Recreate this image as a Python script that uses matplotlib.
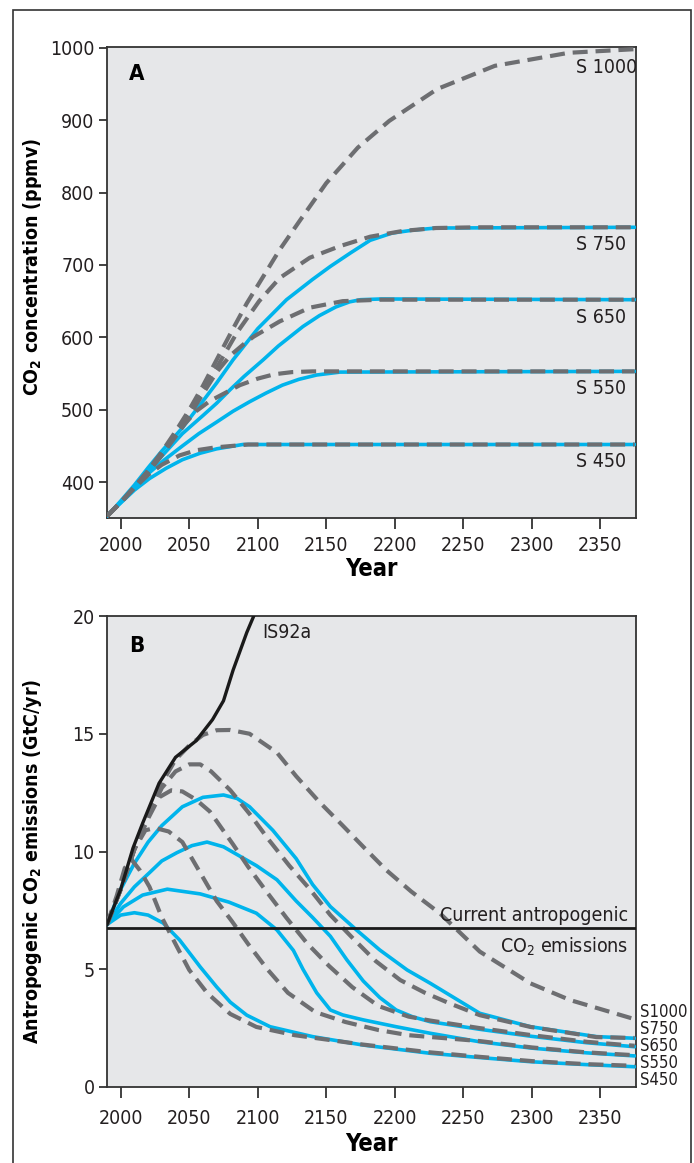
import matplotlib
matplotlib.use("Agg")
import matplotlib.pyplot as plt
from matplotlib.patches import Rectangle

plt.rcParams['font.family'] = ['DejaVu Sans']
plt.rcParams['font.stretch'] = 'condensed'
plt.rcParams['mathtext.default'] = 'regular'

# ---- panel A: CO2 concentration (ppmv) ----
s1000_d_yr = [1990, 2000, 2010, 2020, 2030, 2040, 2050, 2060, 2070, 2082, 2092, 2104, 2116, 2131, 2150, 2173, 2196, 2231, 2273, 2327, 2375]
s1000_d = [353, 372, 393, 416, 442, 470, 500, 533, 569, 612, 647, 684, 721, 762, 813, 862, 899, 943, 975, 993, 998]

s750_d_yr = [1990, 2000, 2010, 2020, 2030, 2040, 2050, 2060, 2070, 2085, 2101, 2116, 2138, 2160, 2182, 2206, 2230, 2260, 2375]
s750_d = [353, 372, 393, 415, 440, 467, 496, 527, 558, 607, 650, 682, 710, 726, 739, 747, 751, 752, 752]
s750_b_yr = [1990, 2000, 2010, 2020, 2030, 2045, 2060, 2070, 2082, 2100, 2121, 2140, 2153, 2168, 2182, 2198, 2213, 2230, 2375]
s750_b = [353, 374, 396, 420, 443, 475, 512, 537, 569, 612, 652, 680, 698, 717, 734, 744, 748, 751, 752]

s650_d_yr = [1990, 2000, 2010, 2020, 2030, 2040, 2050, 2060, 2070, 2080, 2090, 2097, 2116, 2138, 2162, 2190, 2375]
s650_d = [353, 372, 393, 415, 439, 464, 492, 522, 552, 575, 591, 601, 622, 641, 650, 652, 652]
s650_b_yr = [1990, 2000, 2010, 2021, 2030, 2045, 2060, 2070, 2080, 2090, 2104, 2115, 2133, 2145, 2157, 2167, 2175, 2190, 2375]
s650_b = [353, 373, 393, 416, 436, 467, 492, 509, 528, 546, 569, 588, 615, 630, 642, 649, 652, 653, 652]

s550_d_yr = [1990, 2000, 2010, 2020, 2030, 2040, 2047, 2055, 2065, 2075, 2087, 2100, 2112, 2125, 2140, 2375]
s550_d = [353, 372, 393, 414, 437, 463, 481, 498, 512, 522, 534, 543, 549, 552, 553, 553]
s550_b_yr = [1990, 2000, 2010, 2019, 2032, 2045, 2057, 2070, 2082, 2094, 2106, 2118, 2130, 2143, 2160, 2375]
s550_b = [353, 372, 392, 410, 431, 450, 467, 483, 498, 511, 523, 534, 542, 548, 552, 553]

s450_d_yr = [1990, 2000, 2010, 2020, 2030, 2043, 2055, 2069, 2093, 2375]
s450_d = [353, 372, 392, 410, 424, 437, 444, 448, 452, 452]
s450_b_yr = [1990, 1997, 2010, 2021, 2033, 2045, 2058, 2070, 2089, 2375]
s450_b = [353, 366, 389, 405, 419, 431, 440, 446, 452, 452]

conc_labels = ["S 1000", "S 750", "S 650", "S 550", "S 450"]
conc_label_y = [972, 728, 628, 529, 428]

# ---- panel B: emissions (GtC/yr) ----
is92a_yr = [1990, 2000, 2009, 2016, 2028, 2040, 2055, 2067, 2075, 2082, 2092, 2100]
is92a = [6.9, 8.4, 10.15, 11.2, 12.9, 14.0, 14.7, 15.6, 16.4, 17.7, 19.3, 20.4]

e1000_d_yr = [1990, 2000, 2010, 2020, 2030, 2040, 2050, 2060, 2070, 2080, 2094, 2114, 2128, 2145, 2162, 2177, 2194, 2212, 2233, 2262, 2299, 2328, 2375]
e1000_d = [6.9, 8.4, 10.1, 11.6, 12.9, 13.9, 14.5, 14.95, 15.15, 15.16, 15.0, 14.2, 13.2, 12.1, 11.1, 10.2, 9.2, 8.3, 7.37, 5.75, 4.4, 3.69, 2.88]

e750_d_yr = [1990, 2000, 2010, 2020, 2030, 2040, 2050, 2058, 2066, 2080, 2094, 2108, 2123, 2138, 2153, 2170, 2186, 2204, 2222, 2240, 2262, 2299, 2347, 2375]
e750_d = [6.9, 8.4, 10.1, 11.5, 12.7, 13.4, 13.7, 13.7, 13.4, 12.6, 11.6, 10.5, 9.4, 8.4, 7.3, 6.28, 5.35, 4.54, 4.0, 3.55, 3.05, 2.55, 2.12, 2.08]
e750_b_yr = [1990, 2000, 2010, 2020, 2030, 2045, 2060, 2075, 2085, 2094, 2111, 2128, 2140, 2153, 2172, 2189, 2209, 2226, 2262, 2299, 2347, 2375]
e750_b = [6.9, 8.4, 9.5, 10.4, 11.1, 11.9, 12.3, 12.4, 12.25, 11.9, 10.9, 9.7, 8.6, 7.66, 6.67, 5.82, 4.97, 4.4, 3.13, 2.56, 2.14, 2.07]

e650_d_yr = [1990, 2000, 2010, 2020, 2028, 2037, 2045, 2055, 2065, 2082, 2093, 2107, 2121, 2136, 2152, 2169, 2188, 2210, 2226, 2262, 2300, 2340, 2375]
e650_d = [6.9, 8.4, 10.1, 11.4, 12.3, 12.6, 12.55, 12.2, 11.7, 10.3, 9.35, 8.25, 7.18, 6.1, 5.14, 4.24, 3.44, 2.99, 2.82, 2.5, 2.2, 1.92, 1.75]
e650_b_yr = [1990, 2000, 2010, 2021, 2030, 2041, 2052, 2063, 2075, 2087, 2099, 2114, 2128, 2140, 2153, 2165, 2177, 2189, 2201, 2213, 2226, 2262, 2300, 2340, 2375]
e650_b = [6.9, 7.8, 8.5, 9.1, 9.6, 9.95, 10.25, 10.4, 10.2, 9.8, 9.4, 8.8, 7.9, 7.2, 6.4, 5.4, 4.5, 3.8, 3.27, 2.98, 2.77, 2.45, 2.15, 1.88, 1.71]

e550_d_yr = [1990, 2000, 2010, 2018, 2025, 2035, 2045, 2058, 2070, 2081, 2093, 2107, 2122, 2142, 2164, 2188, 2210, 2262, 2300, 2340, 2375]
e550_d = [6.9, 8.4, 10.1, 10.9, 11.0, 10.85, 10.4, 9.1, 7.9, 7.05, 6.07, 5.0, 4.0, 3.18, 2.76, 2.42, 2.2, 1.95, 1.68, 1.47, 1.35]
e550_b_yr = [1990, 2002, 2016, 2034, 2058, 2079, 2099, 2114, 2126, 2133, 2143, 2153, 2162, 2177, 2201, 2226, 2262, 2300, 2340, 2375]
e550_b = [6.9, 7.65, 8.15, 8.4, 8.2, 7.85, 7.38, 6.67, 5.8, 5.0, 4.0, 3.27, 3.06, 2.85, 2.56, 2.28, 1.92, 1.65, 1.45, 1.32]

e450_d_yr = [1990, 1997, 2003, 2008, 2014, 2021, 2030, 2041, 2050, 2063, 2080, 2099, 2127, 2177, 2226, 2262, 2300, 2340, 2375]
e450_d = [6.9, 8.1, 9.3, 9.65, 9.2, 8.5, 7.2, 5.96, 4.97, 4.0, 3.1, 2.55, 2.2, 1.8, 1.47, 1.28, 1.1, 0.97, 0.9]
e450_b_yr = [1990, 2000, 2010, 2020, 2031, 2043, 2058, 2070, 2080, 2092, 2109, 2140, 2177, 2226, 2262, 2300, 2340, 2375]
e450_b = [6.9, 7.3, 7.4, 7.3, 6.96, 6.24, 5.1, 4.25, 3.6, 3.05, 2.56, 2.14, 1.78, 1.43, 1.25, 1.07, 0.95, 0.86]

current_emis = 6.75
emis_labels = ["S1000", "S750", "S650", "S550", "S450"]
emis_label_y = [3.18, 2.46, 1.74, 1.03, 0.3]

blue = "#00b4ec"
grey = "#6d6e71"
bg = "#e6e7e9"
txt = "#231f20"

dash = dict(color=grey, linewidth=3.0, dashes=(3.6, 1.9), zorder=4)
solid = dict(color=blue, linewidth=2.6, zorder=3, solid_capstyle="round")

fig = plt.figure(figsize=(6.94, 11.63), dpi=100)
fig.patches.append(Rectangle((13 / 694, -0.05), 678 / 694, 1.05 - 10 / 1163,
                             transform=fig.transFigure, fill=False,
                             edgecolor="#333333", linewidth=1.2))

axA = fig.add_axes([107 / 694, 1 - 518 / 1163, 529 / 694, 471 / 1163])
axB = fig.add_axes([107 / 694, 1 - 1087 / 1163, 529 / 694, 471 / 1163])

# panel A
axA.plot(s450_b_yr, s450_b, **solid)
axA.plot(s550_b_yr, s550_b, **solid)
axA.plot(s650_b_yr, s650_b, **solid)
axA.plot(s750_b_yr, s750_b, **solid)
axA.plot(s450_d_yr, s450_d, **dash)
axA.plot(s550_d_yr, s550_d, **dash)
axA.plot(s650_d_yr, s650_d, **dash)
axA.plot(s750_d_yr, s750_d, **dash)
axA.plot(s1000_d_yr, s1000_d, **dash)
for lab, y in zip(conc_labels, conc_label_y):
    axA.text(2332, y, lab, fontsize=14, color=txt, va="center", ha="left")
axA.set_ylim(350.5, 1001)
axA.set_yticks([400, 500, 600, 700, 800, 900, 1000])
axA.set_ylabel("CO$_2$ concentration (ppmv)", fontsize=14, fontweight="bold")
axA.yaxis.set_label_coords(-0.119, 0.533)
axA.text(0.042, 0.943, "A", transform=axA.transAxes, fontsize=16,
         fontweight="bold", va="center", ha="left")

# panel B
axB.plot(e450_b_yr, e450_b, **solid)
axB.plot(e550_b_yr, e550_b, **solid)
axB.plot(e650_b_yr, e650_b, **solid)
axB.plot(e750_b_yr, e750_b, **solid)
axB.plot(e450_d_yr, e450_d, **dash)
axB.plot(e550_d_yr, e550_d, **dash)
axB.plot(e650_d_yr, e650_d, **dash)
axB.plot(e750_d_yr, e750_d, **dash)
axB.plot(e1000_d_yr, e1000_d, **dash)
axB.plot(is92a_yr, is92a, color="#1a1a1a", linewidth=2.4, zorder=5)
axB.axhline(current_emis, color="#1a1a1a", linewidth=2.0, zorder=6)
axB.text(2103, 19.3, "IS92a", fontsize=14, color=txt, va="center", ha="left")
axB.text(2370, 7.3, "Current antropogenic", fontsize=14, color=txt,
         va="center", ha="right", zorder=7)
axB.text(2370, 5.95, "CO$_2$ emissions", fontsize=14, color=txt,
         va="center", ha="right", zorder=7)
for lab, y in zip(emis_labels, emis_label_y):
    axB.text(2379, y, lab, fontsize=12, color=txt, va="center", ha="left",
             clip_on=False)
axB.set_ylim(0, 20)
axB.set_yticks([0, 5, 10, 15, 20])
axB.set_ylabel("Antropogenic CO$_2$ emissions (GtC/yr)", fontsize=14,
               fontweight="bold")
axB.yaxis.set_label_coords(-0.119, 0.479)
axB.text(0.042, 0.936, "B", transform=axB.transAxes, fontsize=16,
         fontweight="bold", va="center", ha="left")

for ax in (axA, axB):
    ax.set_facecolor(bg)
    ax.set_xlim(1990, 2376)
    ax.set_xticks([2000, 2050, 2100, 2150, 2200, 2250, 2300, 2350])
    ax.set_xlabel("Year", fontsize=17, fontweight="bold")
    ax.tick_params(axis="both", direction="out", length=6, width=1.3,
                   colors="#333333", labelcolor=txt, labelsize=14, pad=3)
    for sp in ax.spines.values():
        sp.set_color("#333333")
        sp.set_linewidth(1.3)

axA.tick_params(axis="x", length=8, pad=5)
axB.tick_params(axis="x", length=8, pad=8)
axA.xaxis.set_label_coords(0.5, -0.083)
axB.xaxis.set_label_coords(0.5, -0.096)

fig.savefig("out.png", dpi=100)
